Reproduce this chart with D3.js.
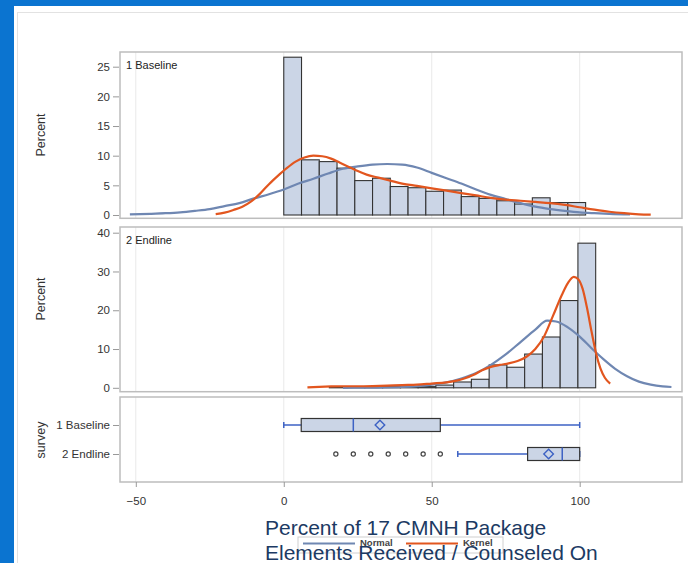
<!DOCTYPE html>
<html>
<head>
<meta charset="utf-8">
<script src="https://cdn.jsdelivr.net/npm/d3@7"></script>
<style>
  body { margin: 0; background: #fff; }
  svg { display: block; font-family: "Liberation Sans", Arial, sans-serif; }
</style>
</head>
<body>
<svg id="chart" width="688" height="563"></svg>
<script>
// ---- data ----
const binWidth = 6;
const xTicks = [-50, 0, 50, 100];

const baselineBinStarts = [0, 6, 12, 18, 24, 30, 36, 42, 48, 54, 60, 66, 72, 78, 84, 90, 96];
const baselinePct = [26.6, 9.3, 9.0, 7.9, 5.8, 6.2, 4.8, 4.6, 4.0, 4.2, 3.1, 2.8, 2.4, 1.85, 2.9, 2.1, 2.1];
const baselineYTicks = [0, 5, 10, 15, 20, 25];

const endlineBinStarts = [15.4, 21.4, 27.4, 33.4, 39.4, 45.4, 51.4, 57.4, 63.4, 69.4, 75.4, 81.4, 87.4, 93.4, 99.4];
const endlinePct = [0.3, 0.3, 0.3, 0.3, 0.3, 0.3, 0.7, 1.5, 2.2, 5.9, 5.3, 8.7, 13.1, 22.5, 37.3];
const endlineYTicks = [0, 10, 20, 30, 40];

// fitted curves, [value, percent]
const baselineNormal = [[-52, 0.1], [-45, 0.2], [-40, 0.3], [-35, 0.45], [-30, 0.7], [-25, 1.0], [-20, 1.5],
  [-15, 2.0], [-10, 2.8], [-5, 3.5], [0, 4.3], [5, 5.3], [10, 6.1], [15, 7.0], [20, 7.8], [25, 8.2], [30, 8.5],
  [35, 8.6], [40, 8.5], [45, 8.0], [50, 7.1], [55, 6.2], [60, 5.3], [65, 4.3], [70, 3.4], [75, 2.7], [80, 2.0],
  [85, 1.4], [90, 1.0], [95, 0.7], [100, 0.45], [105, 0.3], [110, 0.18], [117, 0.08]];
const baselineKernel = [[-23, 0.15], [-20, 0.4], [-17, 0.85], [-14, 1.4], [-11, 2.3], [-8, 3.6], [-5, 5.2],
  [-2, 6.6], [1, 7.9], [4, 9.0], [7, 9.7], [10, 10.0], [13, 9.9], [16, 9.5], [19, 8.8], [22, 8.1], [25, 7.4],
  [28, 6.8], [32, 6.3], [36, 5.8], [40, 5.3], [45, 4.9], [50, 4.5], [55, 4.1], [60, 3.7], [65, 3.3], [70, 2.9],
  [75, 2.6], [80, 2.4], [85, 2.2], [90, 2.0], [95, 1.7], [100, 1.3], [105, 0.9], [110, 0.55], [115, 0.3],
  [120, 0.12], [124, 0.05]];
const endlineNormal = [[20, 0], [30, 0.05], [40, 0.2], [45, 0.4], [50, 0.8], [55, 1.4], [60, 2.4], [65, 3.8],
  [70, 5.9], [75, 8.6], [80, 11.8], [85, 15.0], [89, 17.3], [92, 17.1], [96, 15.6], [100, 13.2], [104, 10.2],
  [108, 7.4], [112, 4.9], [116, 3.0], [120, 1.6], [124, 0.8], [128, 0.35], [131, 0.2]];
const endlineKernel = [[8, 0.1], [12, 0.25], [16, 0.35], [20, 0.4], [25, 0.4], [30, 0.45], [35, 0.55], [40, 0.7],
  [45, 0.8], [50, 1.1], [55, 1.4], [58, 1.8], [61, 2.4], [64, 3.3], [67, 4.5], [70, 5.4], [73, 5.9], [76, 6.3],
  [79, 6.9], [82, 8.0], [85, 10.0], [88, 13.3], [91, 18.6], [94, 24.0], [96, 27.0], [98, 28.6], [99.5, 28.0],
  [101, 25.5], [102.5, 20.5], [104, 14.5], [105.5, 9.0], [107, 5.0], [108.5, 2.6], [110.3, 1.1]];

// box plot
const surveys = ["1 Baseline", "2 Endline"];
const whiskerLow = [0, 58.8];
const quartile1 = [5.9, 82.4];
const medians = [23.5, 94.1];
const quartile3 = [52.9, 100];
const whiskerHigh = [100, 100];
const means = [32.5, 89.5];
const endlineOutliers = [17.6, 23.5, 29.4, 35.3, 41.2, 47.1, 52.9];

const legendLabels = ["Normal", "Kernel"];
const titleLines = ["Percent of 17 CMNH Package", "Elements Received / Counseled On"];

// ---- styles ----
const barFill = "#cbd5e6", barStroke = "#333";
const normalColor = "#6f87b2", kernelColor = "#e2561f";
const boxBlue = "#3d62c4";
const frameColor = "#bdbdbd", gridColor = "#e9e9e9", textColor = "#333";

const width = 688, height = 563;
const panelL = 120, panelR = 682;

const svg = d3.select("#chart");

// slide background
svg.append("rect").attr("width", width).attr("height", height).attr("fill", "#0b74d0");
svg.append("rect").attr("x", 14).attr("y", 6).attr("width", width - 14).attr("height", height - 6).attr("fill", "#fff");
svg.append("rect").attr("x", 17.5).attr("y", 12.5).attr("width", width).attr("height", height)
  .attr("fill", "none").attr("stroke", "#e2e2e2");

const x = d3.scaleLinear().domain([-50, 100]).range([135.8, 579.7]);

const panels = [
  { label: "1 Baseline", top: 52, bottom: 218.3, y: d3.scaleLinear().domain([0, 25]).range([215, 66.7]),
    ticks: baselineYTicks, starts: baselineBinStarts, pct: baselinePct,
    normal: baselineNormal, kernel: baselineKernel, axisLabelY: 135 },
  { label: "2 Endline", top: 227, bottom: 391.7, y: d3.scaleLinear().domain([0, 40]).range([387.8, 232.7]),
    ticks: endlineYTicks, starts: endlineBinStarts, pct: endlinePct,
    normal: endlineNormal, kernel: endlineKernel, axisLabelY: 299 }
];

function frame(top, bottom) {
  const g = svg.append("g");
  g.selectAll(".grid").data(xTicks).enter().append("line")
    .attr("x1", d => x(d)).attr("x2", d => x(d))
    .attr("y1", top).attr("y2", bottom)
    .attr("stroke", gridColor).attr("stroke-width", 1);
  return g;
}

function styleAxis(g) {
  g.select(".domain").remove();
  g.selectAll(".tick line").attr("stroke", "#999");
  g.selectAll(".tick text").attr("fill", textColor).attr("font-size", 11.5)
    .attr("font-family", "Liberation Sans, Arial, sans-serif");
}

panels.forEach(p => {
  const g = frame(p.top, p.bottom);
  const y = p.y;

  g.selectAll(".bar").data(p.starts).enter().append("rect")
    .attr("class", "bar")
    .attr("x", d => x(d))
    .attr("width", d => x(d + binWidth) - x(d))
    .attr("y", (d, i) => y(p.pct[i]))
    .attr("height", (d, i) => y(0) - y(p.pct[i]))
    .attr("fill", barFill).attr("stroke", barStroke).attr("stroke-width", 1.1);

  const line = d3.line().x(d => x(d[0])).y(d => y(d[1])).curve(d3.curveMonotoneX);
  g.append("path").attr("d", line(p.normal)).attr("fill", "none")
    .attr("stroke", normalColor).attr("stroke-width", 2.2);
  g.append("path").attr("d", line(p.kernel)).attr("fill", "none")
    .attr("stroke", kernelColor).attr("stroke-width", 2.2);

  g.append("rect").attr("x", panelL).attr("y", p.top)
    .attr("width", panelR - panelL).attr("height", p.bottom - p.top)
    .attr("fill", "none").attr("stroke", frameColor).attr("stroke-width", 1.5);

  g.append("text").attr("x", 126).attr("y", p.top + 16.5)
    .attr("font-size", 11).attr("fill", "#222").text(p.label);

  g.append("g").attr("transform", "translate(119,0)")
    .call(d3.axisLeft(y).tickValues(p.ticks).tickSize(6).tickPadding(3))
    .call(styleAxis);

  svg.append("text")
    .attr("transform", `translate(45,${p.axisLabelY}) rotate(-90)`)
    .attr("text-anchor", "middle").attr("font-size", 12.5).attr("fill", textColor)
    .text("Percent");
});

// ---- box plot panel ----
const boxTop = 397, boxBottom = 482;
const bg = frame(boxTop, boxBottom);
const yCat = d3.scalePoint().domain(surveys).range([425, 454]);
const boxH = 13, capH = 6;

surveys.forEach((s, i) => {
  const cy = yCat(s);
  bg.append("line").attr("x1", x(whiskerLow[i])).attr("x2", x(whiskerHigh[i]))
    .attr("y1", cy).attr("y2", cy).attr("stroke", boxBlue).attr("stroke-width", 1.5);
  [whiskerLow[i], whiskerHigh[i]].forEach(v => {
    bg.append("line").attr("x1", x(v)).attr("x2", x(v))
      .attr("y1", cy - capH / 2).attr("y2", cy + capH / 2)
      .attr("stroke", boxBlue).attr("stroke-width", 1.5);
  });
  bg.append("rect").attr("x", x(quartile1[i])).attr("y", cy - boxH / 2)
    .attr("width", x(quartile3[i]) - x(quartile1[i])).attr("height", boxH)
    .attr("fill", barFill).attr("stroke", barStroke).attr("stroke-width", 1.2);
  bg.append("line").attr("x1", x(medians[i])).attr("x2", x(medians[i]))
    .attr("y1", cy - boxH / 2).attr("y2", cy + boxH / 2)
    .attr("stroke", boxBlue).attr("stroke-width", 1.5);
  bg.append("path").attr("d", d3.symbol(d3.symbolSquare, 46)())
    .attr("transform", `translate(${x(means[i])},${cy}) rotate(45)`)
    .attr("fill", "none").attr("stroke", boxBlue).attr("stroke-width", 1.4);
});

bg.selectAll(".outlier").data(endlineOutliers).enter().append("circle")
  .attr("class", "outlier")
  .attr("cx", d => x(d)).attr("cy", yCat("2 Endline")).attr("r", 2.1)
  .attr("fill", "#fff").attr("stroke", "#444").attr("stroke-width", 1.2);

bg.append("rect").attr("x", panelL).attr("y", boxTop)
  .attr("width", panelR - panelL).attr("height", boxBottom - boxTop)
  .attr("fill", "none").attr("stroke", frameColor).attr("stroke-width", 1.5);

bg.append("g").attr("transform", "translate(119,0)")
  .call(d3.axisLeft(yCat).tickSize(6).tickPadding(3))
  .call(styleAxis);

svg.append("text")
  .attr("transform", "translate(45,440) rotate(-90)")
  .attr("text-anchor", "middle").attr("font-size", 12.5).attr("fill", textColor)
  .text("survey");

svg.append("g").attr("transform", `translate(0,${boxBottom})`)
  .call(d3.axisBottom(x).tickValues(xTicks).tickSize(5).tickPadding(10))
  .call(styleAxis);

// ---- legend ----
const lg = svg.append("g");
lg.append("rect").attr("x", 298).attr("y", 537).attr("width", 205).attr("height", 16)
  .attr("fill", "none").attr("stroke", "#d0d0d0");
const legendColors = [normalColor, kernelColor];
const legendX = [303, 406];
legendLabels.forEach((t, i) => {
  lg.append("line").attr("x1", legendX[i]).attr("x2", legendX[i] + 52)
    .attr("y1", 543.5).attr("y2", 543.5)
    .attr("stroke", legendColors[i]).attr("stroke-width", 2.2);
  lg.append("text").attr("x", legendX[i] + 57).attr("y", 546)
    .attr("font-size", 9.5).attr("font-weight", "bold").attr("fill", "#444").text(t);
});

// ---- title (overlapping the legend, as in the slide) ----
titleLines.forEach((t, i) => {
  svg.append("text").attr("x", 265).attr("y", 535 + i * 25)
    .attr("font-size", 21).attr("fill", "#1c3a63").text(t);
});
</script>
</body>
</html>
